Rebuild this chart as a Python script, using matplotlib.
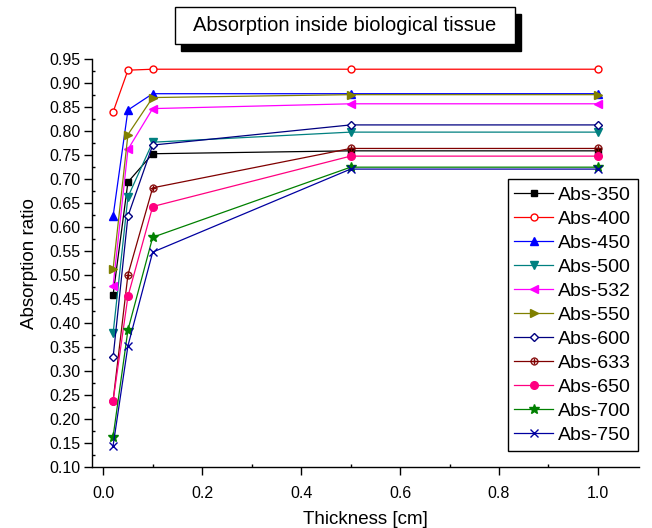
import matplotlib
matplotlib.use('Agg')
from matplotlib import pyplot as plt
from matplotlib.patches import Rectangle
from matplotlib.ticker import MultipleLocator
import numpy as np

'''
    Absorption ratio vs. tissue thickness for several wavelengths
'''

plt.rcParams['font.family'] = ['Liberation Sans', 'DejaVu Sans']

thickness = [0.02, 0.05, 0.1, 0.5, 1.0]

abs_350 = [0.459, 0.694, 0.753, 0.759, 0.759]
abs_400 = [0.840, 0.927, 0.929, 0.929, 0.929]
abs_450 = [0.623, 0.844, 0.878, 0.878, 0.878]
abs_500 = [0.379, 0.663, 0.777, 0.798, 0.798]
abs_532 = [0.478, 0.762, 0.847, 0.857, 0.857]
abs_550 = [0.513, 0.793, 0.870, 0.876, 0.876]
abs_600 = [0.329, 0.623, 0.771, 0.813, 0.813]
abs_633 = [0.239, 0.501, 0.682, 0.764, 0.764]
abs_650 = [0.238, 0.456, 0.643, 0.748, 0.748]
abs_700 = [0.164, 0.386, 0.579, 0.725, 0.725]
abs_750 = [0.145, 0.353, 0.548, 0.721, 0.721]

labels = ['Abs-350', 'Abs-400', 'Abs-450', 'Abs-500', 'Abs-532', 'Abs-550',
          'Abs-600', 'Abs-633', 'Abs-650', 'Abs-700', 'Abs-750']
series = [abs_350, abs_400, abs_450, abs_500, abs_532, abs_550,
          abs_600, abs_633, abs_650, abs_700, abs_750]

# colour, marker, size, open marker?
styles = [
    ('#000000', 's', 5, False),
    ('#FF0000', 'o', 5, True),
    ('#0000FF', '^', 6, False),
    ('#008080', 'v', 6, False),
    ('#FF00FF', '<', 6, False),
    ('#808000', '>', 6, False),
    ('#000080', 'D', 4.5, True),
    ('#800000', r'$\oplus$', 5.5, False),
    ('#FF0080', 'o', 5.5, False),
    ('#008000', '*', 7, False),
    ('#0000A0', 'x', 5.5, False),
]

fig = plt.figure(figsize=(6.52, 5.28), dpi=100)
ax = fig.add_axes([0.1416, 0.115, 0.8385, 0.773])

for vals, lab, (col, mk, ms, hollow) in zip(series, labels, styles):
    ax.plot(thickness, vals, color=col, marker=mk, markersize=ms, linewidth=0.9,
            markerfacecolor='white' if hollow else col, markeredgecolor=col,
            markeredgewidth=1.0 if not mk.startswith('$') else 0.3, label=lab)

ax.set_xlim(-0.022, 1.083)
ax.set_ylim(0.10, 0.95)
ax.xaxis.set_major_locator(MultipleLocator(0.2))
ax.xaxis.set_minor_locator(MultipleLocator(0.1))
ax.yaxis.set_major_locator(MultipleLocator(0.05))
ax.yaxis.set_minor_locator(MultipleLocator(0.025))
ax.yaxis.set_major_formatter(matplotlib.ticker.FormatStrFormatter('%.2f'))
ax.xaxis.set_major_formatter(matplotlib.ticker.FormatStrFormatter('%.1f'))

ax.spines['top'].set_visible(False)
ax.spines['right'].set_visible(False)
for s in ['left', 'bottom']:
    ax.spines[s].set_linewidth(1.0)

ax.tick_params(which='major', direction='out', length=5.5, width=1.0, labelsize=11.5, pad=3)
ax.tick_params(which='minor', direction='in', length=2.5, width=1.0)
ax.tick_params(axis='x', which='major', pad=8)

ax.set_xlabel('Thickness [cm]', fontsize=13.5, labelpad=7)
ax.set_ylabel('Absorption ratio', fontsize=13.5, labelpad=8)

leg = ax.legend(loc='upper right', bbox_to_anchor=(0.998, 0.706), borderaxespad=0,
                fontsize=14, fancybox=False, edgecolor='black', framealpha=1,
                handlelength=2.0, handletextpad=0.25, labelspacing=0.33,
                borderpad=0.35)
leg.get_frame().set_linewidth(1.0)

# boxed title with drop shadow
shadow = Rectangle((0.2776, 0.9040), 0.5209, 0.0695, transform=fig.transFigure,
                   facecolor='black', edgecolor='black', zorder=1)
box = Rectangle((0.2684, 0.9171), 0.5209, 0.0695, transform=fig.transFigure,
                facecolor='white', edgecolor='black', linewidth=1.0, zorder=2)
fig.add_artist(shadow)
fig.add_artist(box)
fig.text(0.5288, 0.9519, 'Absorption inside biological tissue', fontsize=14.5,
         ha='center', va='center', zorder=3)

plt.savefig('out.png', dpi=100)
